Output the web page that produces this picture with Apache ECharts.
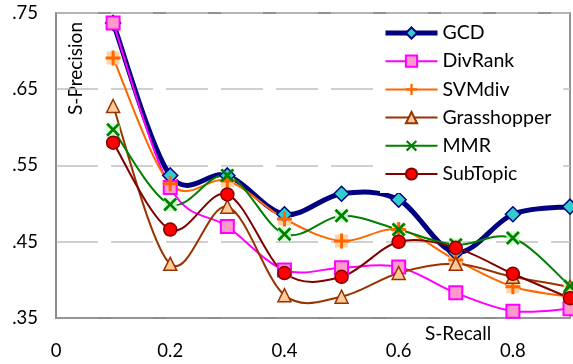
<!DOCTYPE html>
<html>
<head>
<meta charset="utf-8">
<script src="https://cdn.jsdelivr.net/npm/echarts@6/dist/echarts.min.js"></script>
<style>
html,body{margin:0;padding:0;background:#fff;}
#chart{width:573px;height:364px;}
</style>
</head>
<body>
<div id="chart"></div>
<script>
var recall = [0.1, 0.2, 0.3, 0.4, 0.5, 0.6, 0.7, 0.8, 0.9];
var xTicks = ['0', '0.2', '0.4', '0.6', '0.8'];
var yTicks = ['.35', '.45', '.55', '.65', '.75'];
var seriesNames = ['GCD', 'DivRank', 'SVMdiv', 'Grasshopper', 'MMR', 'SubTopic'];
var gcd         = [0.737, 0.537, 0.537, 0.486, 0.513, 0.505, 0.436, 0.486, 0.496];
var divRank     = [0.737, 0.521, 0.470, 0.413, 0.416, 0.417, 0.383, 0.359, 0.362];
var svmDiv      = [0.691, 0.526, 0.530, 0.480, 0.451, 0.466, 0.426, 0.391, 0.378];
var grasshopper = [0.628, 0.421, 0.496, 0.380, 0.378, 0.409, 0.421, 0.404, 0.391];
var mmr         = [0.597, 0.499, 0.537, 0.460, 0.484, 0.466, 0.446, 0.455, 0.392];
var subTopic    = [0.580, 0.466, 0.512, 0.409, 0.404, 0.450, 0.442, 0.408, 0.376];

function pts(arr){ return arr.map(function(v,i){ return [recall[i], v]; }); }

var FONT = 'Lato';
var plusPath = 'path://M4,0h2v4h4v2h-4v4h-2v-4h-4v-2h4z';
var xPath = 'path://M0,1.4L1.4,0L5,3.6L8.6,0L10,1.4L6.4,5L10,8.6L8.6,10L5,6.4L1.4,10L0,8.6L3.6,5Z';

// Smoothed curve (Catmull-Rom style Bezier, like spreadsheet smoothing) drawn through the axes' scales
function curveSeries(name, values, color, width){
  var data = pts(values);
  return {
    name: name + ' curve', type: 'custom', silent: true, data: data,
    encode: {x: 0, y: 1},
    renderItem: function(params, api){
      var i = params.dataIndex;
      var n = data.length;
      if (i >= n - 1) return {type: 'group', children: []};
      var p0 = api.coord(data[Math.max(i - 1, 0)]);
      var p1 = api.coord(data[i]);
      var p2 = api.coord(data[i + 1]);
      var p3 = api.coord(data[Math.min(i + 2, n - 1)]);
      var t = 6;
      return {
        type: 'bezierCurve',
        shape: {
          x1: p1[0], y1: p1[1], x2: p2[0], y2: p2[1],
          cpx1: p1[0] + (p2[0] - p0[0]) / t, cpy1: p1[1] + (p2[1] - p0[1]) / t,
          cpx2: p2[0] - (p3[0] - p1[0]) / t, cpy2: p2[1] - (p3[1] - p1[1]) / t
        },
        style: {stroke: color, lineWidth: width, fill: null, lineCap: 'round'}
      };
    }
  };
}

function markerSeries(name, values, color, width, symbol, size, itemStyle){
  return {
    name: name, type: 'line', data: pts(values),
    lineStyle: {color: color, width: width, opacity: 0},
    symbol: symbol, symbolSize: size, symbolKeepAspect: true,
    itemStyle: itemStyle
  };
}

var colors = {GCD: '#000080', DivRank: '#ff00ff', SVMdiv: '#ff6600', Grasshopper: '#993300', MMR: '#008000', SubTopic: '#800000'};
var widths = {GCD: 5, DivRank: 2, SVMdiv: 2, Grasshopper: 2, MMR: 2, SubTopic: 2};

var chart = echarts.init(document.getElementById('chart'), null, {renderer:'canvas'});
chart.setOption({
  animation: false,
  backgroundColor: '#fff',
  textStyle: {fontFamily: FONT},
  grid: {left: 56, right: 3, top: 13, bottom: 46, show: true, borderColor: '#6f6f6f', borderWidth: 1.5, backgroundColor: 'transparent'},
  xAxis: {
    type: 'value', min: 0, max: 0.9, interval: 0.2,
    axisLine: {show: true, lineStyle: {color: '#8a8a8a', width: 1.5}},
    axisTick: {show: false},
    splitLine: {show: false},
    axisLabel: {
      color: '#000', fontSize: 18.5, fontFamily: FONT, margin: 24, showMaxLabel: false,
      formatter: function(v){ var i = Math.round(v/0.2); return xTicks[i] !== undefined ? xTicks[i] : ''; }
    }
  },
  yAxis: {
    type: 'value', min: 0.35, max: 0.75, interval: 0.1,
    axisLine: {show: true, lineStyle: {color: '#8a8a8a', width: 1.5}},
    axisTick: {show: false},
    splitLine: {show: true, lineStyle: {color: '#c0c0c0', width: 1.5, type: [42, 13]}},
    axisLabel: {
      color: '#000', fontSize: 18.5, fontFamily: FONT, margin: 18,
      formatter: function(v){ var i = Math.round((v-0.35)/0.1); return yTicks[i] !== undefined ? yTicks[i] : ''; }
    }
  },
  legend: {
    orient: 'vertical', left: 380, top: 14,
    backgroundColor: '#fff',
    padding: [9, 12, 9, 3],
    itemWidth: 52, itemHeight: 14, itemGap: 8.2,
    textStyle: {fontSize: 19.5, color: '#000', fontFamily: FONT},
    data: seriesNames.map(function(n){
      return {name: n, lineStyle: {color: colors[n], width: widths[n], opacity: 1}};
    })
  },
  graphic: [
    {type: 'text', left: 66, top: 22, rotation: Math.PI/2, style: {text: 'S-Precision', fontSize: 19, fontFamily: FONT, fill: '#000'}},
    {type: 'text', left: 425, top: 324, style: {text: 'S-Recall', fontSize: 19, fontFamily: FONT, fill: '#000'}}
  ],
  series: [
    curveSeries('GCD', gcd, colors.GCD, 5),
    markerSeries('GCD', gcd, colors.GCD, 5, 'diamond', 15, {color: '#33cccc', borderColor: '#000080', borderWidth: 1.5}),
    curveSeries('DivRank', divRank, colors.DivRank, 2),
    markerSeries('DivRank', divRank, colors.DivRank, 2, 'rect', 13, {color: '#ff99cc', borderColor: '#ff00ff', borderWidth: 2}),
    curveSeries('SVMdiv', svmDiv, colors.SVMdiv, 2),
    {name: 'SVMdiv bg', type: 'scatter', data: pts(svmDiv), silent: true,
      symbol: 'rect', symbolSize: 13, itemStyle: {color: '#ffcc99', opacity: 0.9}},
    markerSeries('SVMdiv', svmDiv, colors.SVMdiv, 2, plusPath, 15, {color: '#ff6600', borderWidth: 0}),
    curveSeries('Grasshopper', grasshopper, colors.Grasshopper, 2),
    markerSeries('Grasshopper', grasshopper, colors.Grasshopper, 2, 'triangle', 13, {color: '#ffcc99', borderColor: '#993300', borderWidth: 1.5}),
    curveSeries('MMR', mmr, colors.MMR, 2),
    {name: 'MMR bg', type: 'scatter', data: pts(mmr), silent: true,
      symbol: 'rect', symbolSize: 13, itemStyle: {color: '#ccffcc', opacity: 0.9}},
    markerSeries('MMR', mmr, colors.MMR, 2, xPath, 14, {color: '#008000', borderWidth: 0}),
    curveSeries('SubTopic', subTopic, colors.SubTopic, 2),
    markerSeries('SubTopic', subTopic, colors.SubTopic, 2, 'circle', 13, {color: '#ff0000', borderColor: '#800000', borderWidth: 1.5})
  ]
});
</script>
</body>
</html>
